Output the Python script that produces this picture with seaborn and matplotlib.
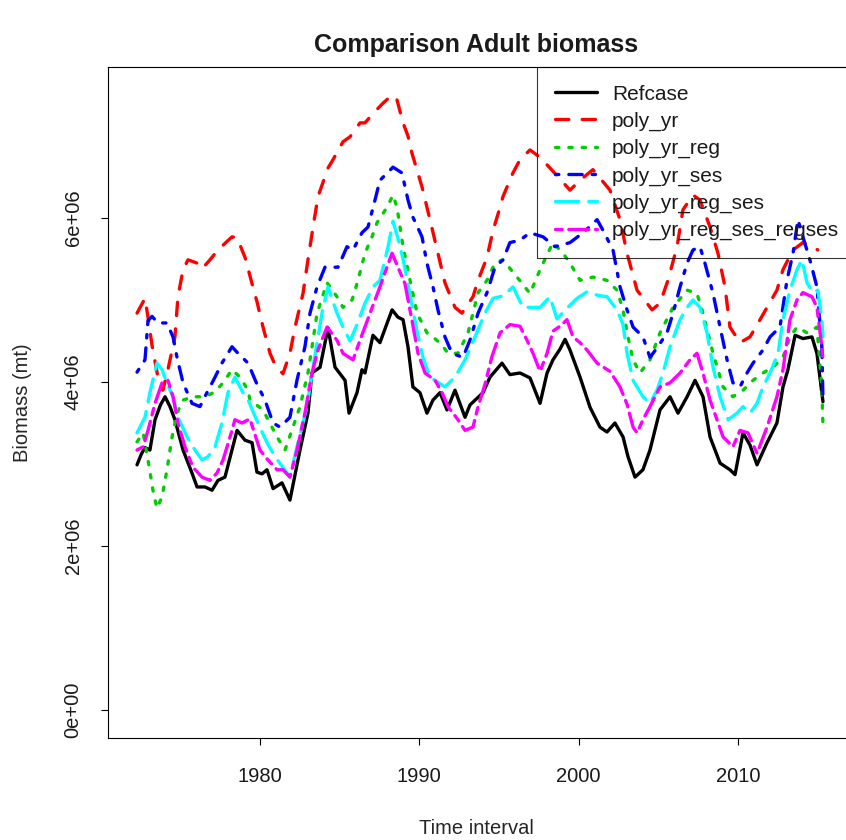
import numpy as np
import pandas as pd
import matplotlib
matplotlib.use("Agg")
import matplotlib.pyplot as plt
import seaborn as sns

# ---------------- data (biomass in millions of mt) ----------------
series_names = ["Refcase", "poly_yr", "poly_yr_reg", "poly_yr_ses",
                "poly_yr_reg_ses", "poly_yr_reg_ses_regses"]

refcase_year = [1972.28, 1972.55, 1972.78, 1973.09, 1973.41, 1973.75, 1974.04, 1974.35, 1974.66,
                1975.17, 1975.73, 1976.05, 1976.55, 1976.99, 1977.36, 1977.80, 1978.24, 1978.56,
                1979.06, 1979.50, 1979.81, 1980.13, 1980.44, 1980.82, 1981.38, 1981.88, 1982.51,
                1983.01, 1983.26, 1983.77, 1984.27, 1984.71, 1985.34, 1985.59, 1986.09, 1986.40,
                1986.59, 1987.09, 1987.53, 1988.04, 1988.29, 1988.66, 1988.98, 1989.29, 1989.60,
                1990.04, 1990.48, 1990.86, 1991.30, 1991.74, 1992.24, 1992.87, 1993.18, 1994.00,
                1994.44, 1995.19, 1995.69, 1996.32, 1996.95, 1997.58, 1998.02, 1998.39, 1998.83,
                1999.15, 1999.46, 2000.09, 2000.72, 2001.34, 2001.78, 2002.28, 2002.79, 2003.10,
                2003.54, 2004.04, 2004.48, 2005.11, 2005.74, 2006.24, 2006.81, 2007.31, 2007.81,
                2008.25, 2008.88, 2009.50, 2009.82, 2010.32, 2010.76, 2011.20, 2011.83, 2012.45,
                2012.83, 2013.14, 2013.59, 2014.08, 2014.65, 2014.96, 2015.34]
refcase_m = [2.99, 3.12, 3.20, 3.17, 3.54, 3.72, 3.82, 3.70, 3.54,
             3.17, 2.89, 2.72, 2.72, 2.68, 2.80, 2.84, 3.17, 3.41,
             3.29, 3.26, 2.90, 2.88, 2.93, 2.70, 2.77, 2.56, 3.17,
             3.62, 4.11, 4.18, 4.66, 4.18, 4.02, 3.62, 3.87, 4.15,
             4.11, 4.57, 4.48, 4.75, 4.88, 4.79, 4.76, 4.43, 3.94,
             3.87, 3.62, 3.78, 3.87, 3.66, 3.90, 3.57, 3.72, 3.87,
             4.06, 4.23, 4.09, 4.11, 4.05, 3.74, 4.11, 4.27, 4.40,
             4.52, 4.39, 4.06, 3.69, 3.45, 3.39, 3.50, 3.33, 3.09,
             2.84, 2.93, 3.17, 3.66, 3.82, 3.62, 3.82, 4.02, 3.82,
             3.33, 3.01, 2.93, 2.87, 3.38, 3.23, 2.99, 3.26, 3.50,
             3.94, 4.15, 4.57, 4.53, 4.55, 4.35, 3.76]

poly_yr_year = [1972.28, 1972.78, 1972.97, 1973.22, 1973.60, 1973.90, 1974.22, 1974.66, 1974.85,
                1975.17, 1975.48, 1976.05, 1976.36, 1976.86, 1977.36, 1978.24, 1978.56, 1979.06,
                1979.50, 1979.81, 1980.19, 1980.63, 1980.94, 1981.44, 1981.88, 1982.20, 1982.70,
                1983.01, 1983.33, 1983.64, 1984.27, 1984.58, 1985.21, 1985.65, 1986.28, 1986.59,
                1987.03, 1987.72, 1988.29, 1988.60, 1988.98, 1989.29, 1989.54, 1990.17, 1990.67,
                1991.17, 1991.61, 1992.24, 1992.68, 1993.37, 1993.69, 1994.25, 1994.63, 1995.07,
                1995.25, 1995.88, 1996.32, 1996.95, 1997.58, 1998.30, 1999.46, 2000.09, 2000.90,
                2001.97, 2002.60, 2003.04, 2003.67, 2004.61, 2005.11, 2005.61, 2006.18, 2006.55,
                2007.18, 2007.62, 2008.25, 2008.75, 2009.19, 2009.50, 2010.13, 2010.76, 2011.39,
                2011.83, 2012.45, 2012.83, 2013.46, 2014.08, 2014.65, 2015.02]
poly_yr_m = [4.84, 5.02, 4.79, 4.45, 4.05, 3.90, 4.15, 4.55, 5.04,
             5.37, 5.49, 5.45, 5.38, 5.49, 5.61, 5.77, 5.76, 5.52,
             5.20, 4.98, 4.67, 4.35, 4.21, 4.10, 4.35, 4.67, 5.08,
             5.49, 5.89, 6.26, 6.61, 6.71, 6.93, 6.99, 7.16, 7.16,
             7.26, 7.40, 7.50, 7.44, 7.16, 7.00, 6.79, 6.38, 5.98,
             5.57, 5.21, 4.91, 4.84, 5.04, 5.24, 5.52, 5.85, 6.13,
             6.26, 6.55, 6.71, 6.83, 6.74, 6.59, 6.34, 6.46, 6.59,
             6.34, 5.98, 5.57, 5.12, 4.88, 4.96, 5.24, 5.65, 6.10,
             6.28, 6.22, 5.89, 5.57, 5.16, 4.67, 4.48, 4.55, 4.76,
             4.91, 5.12, 5.37, 5.61, 5.70, 5.65, 5.61]

poly_yr_reg_year = [1972.28, 1972.66, 1972.97, 1973.28, 1973.53, 1973.85, 1974.16, 1974.48, 1974.79,
                    1975.17, 1975.79, 1976.55, 1977.18, 1977.68, 1978.24, 1978.74, 1979.25, 1979.37,
                    1980.19, 1981.07, 1981.57, 1982.07, 1982.51, 1983.01, 1983.33, 1983.58, 1984.21,
                    1984.83, 1985.21, 1985.78, 1986.15, 1986.59, 1987.03, 1987.34, 1987.97, 1988.35,
                    1988.60, 1988.98, 1989.42, 1989.86, 1990.48, 1990.86, 1991.43, 1991.80, 1992.43,
                    1993.06, 1993.69, 1994.25, 1994.75, 1995.25, 1996.13, 1996.95, 1997.58, 1998.39,
                    1999.02, 1999.46, 2000.09, 2000.90, 2001.78, 2002.41, 2002.79, 2003.10, 2003.42,
                    2003.85, 2004.48, 2005.11, 2005.93, 2006.81, 2007.43, 2007.81, 2008.44, 2009.07,
                    2009.69, 2010.32, 2010.95, 2011.57, 2012.20, 2012.83, 2013.27, 2013.71, 2014.34,
                    2014.96, 2015.27, 2015.34]
poly_yr_reg_m = [3.27, 3.38, 3.05, 2.68, 2.46, 2.60, 2.93, 3.33, 3.62,
                 3.78, 3.82, 3.82, 3.88, 3.99, 4.15, 4.06, 3.90, 3.78,
                 3.66, 3.33, 3.17, 3.45, 3.70, 4.11, 4.51, 4.84, 5.21,
                 5.04, 4.91, 5.00, 5.24, 5.57, 5.77, 5.94, 6.13, 6.28,
                 6.13, 5.65, 5.24, 4.84, 4.60, 4.55, 4.45, 4.35, 4.35,
                 4.60, 5.09, 5.24, 5.45, 5.49, 5.28, 5.08, 5.37, 5.70,
                 5.57, 5.45, 5.24, 5.28, 5.24, 5.12, 4.88, 4.55, 4.27,
                 4.11, 4.27, 4.60, 4.91, 5.12, 5.08, 4.84, 4.35, 3.94,
                 3.82, 3.90, 4.02, 4.11, 4.18, 4.30, 4.55, 4.67, 4.60,
                 4.67, 3.94, 3.45]

poly_yr_ses_year = [1972.28, 1972.78, 1972.97, 1973.22, 1973.60, 1974.16, 1974.54, 1974.79, 1975.17,
                    1975.73, 1976.23, 1976.67, 1977.18, 1977.61, 1978.24, 1978.62, 1979.25, 1979.75,
                    1980.31, 1980.82, 1981.26, 1981.88, 1982.32, 1982.82, 1983.14, 1983.58, 1984.08,
                    1984.90, 1985.46, 1985.84, 1986.40, 1986.78, 1987.22, 1987.53, 1988.35, 1988.91,
                    1989.29, 1989.60, 1990.17, 1990.48, 1990.86, 1991.17, 1991.61, 1992.05, 1992.74,
                    1993.18, 1993.69, 1994.25, 1994.75, 1995.25, 1995.69, 1996.32, 1996.95, 1997.77,
                    1998.52, 1999.46, 2000.28, 2001.16, 2001.53, 2002.16, 2002.60, 2003.04, 2003.42,
                    2004.04, 2004.48, 2004.98, 2005.55, 2005.93, 2006.37, 2006.81, 2007.18, 2007.62,
                    2007.93, 2008.44, 2008.88, 2009.32, 2009.69, 2010.13, 2010.57, 2010.95, 2011.57,
                    2012.02, 2012.64, 2013.08, 2013.46, 2013.77, 2014.08, 2014.52, 2014.96, 2015.27,
                    2015.34]
poly_yr_ses_m = [4.12, 4.27, 4.75, 4.80, 4.72, 4.72, 4.55, 4.30, 3.99,
                 3.74, 3.70, 3.87, 4.06, 4.23, 4.43, 4.35, 4.23, 4.00,
                 3.78, 3.50, 3.45, 3.57, 4.02, 4.43, 4.84, 5.16, 5.40,
                 5.40, 5.65, 5.61, 5.82, 5.89, 6.22, 6.46, 6.62, 6.55,
                 6.22, 6.01, 5.77, 5.45, 5.16, 4.88, 4.55, 4.35, 4.30,
                 4.51, 4.84, 5.09, 5.40, 5.49, 5.70, 5.73, 5.82, 5.77,
                 5.65, 5.70, 5.82, 5.98, 5.85, 5.61, 5.16, 4.88, 4.67,
                 4.55, 4.30, 4.43, 4.60, 4.84, 5.16, 5.45, 5.61, 5.65,
                 5.45, 5.08, 4.67, 4.27, 3.99, 3.94, 4.11, 4.23, 4.39,
                 4.55, 4.67, 5.24, 5.57, 5.98, 5.77, 5.49, 5.16, 4.43,
                 3.78]

poly_yr_reg_ses_year = [1972.28, 1972.78, 1973.09, 1973.53, 1973.85, 1974.16, 1974.54, 1974.85, 1975.42,
                        1975.92, 1976.36, 1976.74, 1977.18, 1977.61, 1977.99, 1978.43, 1978.93, 1979.30,
                        1979.87, 1980.44, 1980.94, 1981.44, 1981.88, 1982.32, 1982.95, 1983.33, 1983.89,
                        1984.27, 1984.83, 1985.21, 1985.65, 1986.09, 1986.59, 1987.09, 1987.53, 1988.04,
                        1988.35, 1988.66, 1988.98, 1989.42, 1989.86, 1990.23, 1990.67, 1990.99, 1991.61,
                        1992.24, 1992.87, 1993.50, 1994.12, 1994.63, 1995.25, 1995.88, 1996.51, 1997.14,
                        1997.58, 1998.20, 1998.64, 1999.27, 1999.90, 2000.53, 2001.16, 2001.78, 2002.41,
                        2002.79, 2003.04, 2003.42, 2004.04, 2004.48, 2004.92, 2005.30, 2005.74, 2006.37,
                        2006.81, 2007.18, 2007.62, 2008.06, 2008.44, 2008.88, 2009.38, 2009.94, 2010.32,
                        2010.76, 2011.20, 2011.57, 2012.02, 2012.52, 2012.83, 2013.27, 2013.71, 2014.02,
                        2014.34, 2014.71, 2015.02, 2015.27, 2015.34]
poly_yr_reg_ses_m = [3.38, 3.57, 3.87, 4.23, 4.15, 3.99, 3.82, 3.57, 3.33,
                     3.17, 3.05, 3.09, 3.21, 3.50, 3.87, 4.06, 3.87, 3.76,
                     3.50, 3.26, 3.09, 2.96, 2.84, 3.21, 3.70, 4.18, 4.84,
                     5.16, 4.84, 4.67, 4.50, 4.70, 4.96, 5.16, 5.24, 5.65,
                     5.96, 5.75, 5.50, 5.06, 4.62, 4.30, 4.06, 4.02, 3.94,
                     4.06, 4.27, 4.55, 4.84, 5.02, 5.05, 5.16, 4.91, 4.91,
                     4.91, 5.04, 4.77, 4.90, 5.02, 5.10, 5.06, 5.04, 4.88,
                     4.70, 4.35, 4.02, 3.82, 3.74, 3.90, 4.11, 4.43, 4.76,
                     4.91, 5.00, 4.91, 4.60, 4.18, 3.82, 3.54, 3.62, 3.70,
                     3.62, 3.74, 3.94, 4.11, 4.35, 4.76, 5.12, 5.37, 5.49,
                     5.21, 5.09, 5.12, 4.76, 4.55]

regses_year = [1972.28, 1972.66, 1972.97, 1973.41, 1973.85, 1974.22, 1974.54, 1974.85, 1975.29,
               1975.79, 1976.36, 1976.86, 1977.30, 1977.68, 1978.12, 1978.43, 1978.87, 1979.37,
               1980.00, 1980.50, 1981.07, 1981.44, 1981.88, 1982.32, 1982.82, 1983.26, 1983.64,
               1984.21, 1984.83, 1985.21, 1985.84, 1986.28, 1986.91, 1987.53, 1987.97, 1988.29,
               1988.66, 1989.10, 1989.54, 1989.92, 1990.36, 1990.99, 1991.43, 1991.80, 1992.43,
               1992.87, 1993.37, 1993.69, 1994.12, 1994.56, 1995.07, 1995.69, 1996.32, 1996.76,
               1997.14, 1997.58, 1998.02, 1998.39, 1998.83, 1999.27, 1999.65, 2000.09, 2000.53,
               2001.16, 2001.97, 2002.60, 2003.04, 2003.42, 2003.67, 2004.04, 2004.48, 2005.11,
               2005.74, 2006.37, 2006.99, 2007.43, 2007.81, 2008.25, 2008.69, 2009.07, 2009.69,
               2010.13, 2010.63, 2011.20, 2011.83, 2012.45, 2012.83, 2013.27, 2013.71, 2014.08,
               2014.65, 2014.96, 2015.27, 2015.34]
regses_m = [3.17, 3.21, 3.41, 3.74, 3.99, 4.02, 3.82, 3.50, 3.21,
            2.96, 2.84, 2.80, 2.89, 3.05, 3.33, 3.54, 3.50, 3.55,
            3.17, 3.05, 2.93, 2.93, 2.84, 3.17, 3.62, 4.11, 4.39,
            4.67, 4.51, 4.35, 4.27, 4.51, 4.84, 5.16, 5.40, 5.57,
            5.40, 5.20, 4.75, 4.35, 4.11, 4.02, 3.87, 3.70, 3.54,
            3.41, 3.45, 3.70, 3.97, 4.31, 4.60, 4.70, 4.68, 4.51,
            4.35, 4.13, 4.35, 4.62, 4.68, 4.76, 4.55, 4.48, 4.39,
            4.23, 4.13, 3.94, 3.73, 3.45, 3.38, 3.54, 3.70, 3.94,
            3.99, 4.11, 4.27, 4.35, 4.11, 3.78, 3.54, 3.33, 3.21,
            3.41, 3.38, 3.13, 3.45, 3.82, 4.15, 4.76, 5.00, 5.09,
            5.04, 4.91, 4.43, 4.27]

x_ticks = [1980, 1990, 2000, 2010]
y_ticks = [0, 2e6, 4e6, 6e6]
y_tick_labels = ["0e+00", "2e+06", "4e+06", "6e+06"]

# ---------------- assemble long table ----------------
years = [refcase_year, poly_yr_year, poly_yr_reg_year, poly_yr_ses_year,
         poly_yr_reg_ses_year, regses_year]
vals = [refcase_m, poly_yr_m, poly_yr_reg_m, poly_yr_ses_m, poly_yr_reg_ses_m, regses_m]
frames = []
for name, yr, v in zip(series_names, years, vals):
    frames.append(pd.DataFrame({"year": yr, "biomass": np.array(v) * 1e6, "series": name}))
df = pd.concat(frames, ignore_index=True)

colors = ["#000000", "#FF0000", "#00CD00", "#0000FF", "#00FFFF", "#FF00FF"]
styles = ["-", (0, (4, 4)), (0, (1, 3)), (0, (1, 3, 4, 3)), (0, (7, 3)), (0, (2, 2, 6, 2))]

# ---------------- figure ----------------
sns.set_theme(style="white")
plt.rcParams["font.family"] = ["Liberation Sans", "DejaVu Sans"]
plt.rcParams["text.color"] = "#1a1a1a"

W, H = 846, 840
X_LEFT, X_RIGHT = 108.0, 857.0          # plot box (right side runs past the image edge)
Y_TOP, Y_BOT = 67.0, 738.0
fig = plt.figure(figsize=(W / 100, H / 100), dpi=100)
ax = fig.add_axes([X_LEFT / W, 1 - Y_BOT / H, (X_RIGHT - X_LEFT) / W, (Y_BOT - Y_TOP) / H])

lw = 2.4
for name, c, ls in zip(series_names, colors, styles):
    sub = df[df["series"] == name]
    sns.lineplot(data=sub, x="year", y="biomass", color=c, linewidth=lw,
                 linestyle=ls, estimator=None, sort=False, ax=ax, legend=False)
    ln = ax.lines[-1]
    ln.set_dash_capstyle("round")
    ln.set_solid_capstyle("round")
    ln.set_solid_joinstyle("round")
    ln.set_dash_joinstyle("round")

px_per_year = 15.93
ax.set_xlim(1980 + (X_LEFT - 260) / px_per_year, 1980 + (X_RIGHT - 260) / px_per_year)
ax.set_ylim(-0.3415e6, 7.8415e6)

ax.set_xticks(x_ticks)
ax.set_xticklabels([str(t) for t in x_ticks])
ax.set_yticks(y_ticks)
ax.set_yticklabels(y_tick_labels, rotation=90, va="center")

ax.tick_params(axis="both", which="major", direction="out", length=5.2, width=0.8,
               color="black", labelsize=14.5, labelcolor="#1a1a1a", bottom=True, left=True)
ax.tick_params(axis="x", pad=16)
ax.tick_params(axis="y", pad=13)
for sp in ax.spines.values():
    sp.set_visible(True)
    sp.set_color("black")
    sp.set_linewidth(0.8)

ax.set_xlabel("Time interval", fontsize=14.5)
ax.set_ylabel("Biomass (mt)", fontsize=14.5)
ax.xaxis.set_label_coords((476 - X_LEFT) / (X_RIGHT - X_LEFT), (Y_BOT - 829) / (Y_BOT - Y_TOP))
ax.xaxis.label.set_va("center")
ax.yaxis.set_label_coords((23 - X_LEFT) / (X_RIGHT - X_LEFT), 0.5)
ax.yaxis.label.set_va("center")

fig.text(476 / W, 1 - 45 / H, "Comparison Adult biomass",
         fontsize=18, fontweight="bold", ha="center", va="center")

leg = ax.legend(ax.lines, series_names, loc="upper right", bbox_to_anchor=(1, 1),
                borderaxespad=0, frameon=True, fancybox=False, fontsize=15,
                handlelength=2.0, handletextpad=0.75, labelspacing=0.385,
                borderpad=0.85, facecolor="none", edgecolor="black")
leg.get_frame().set_linewidth(0.8)

fig.savefig("out.png", dpi=100)
